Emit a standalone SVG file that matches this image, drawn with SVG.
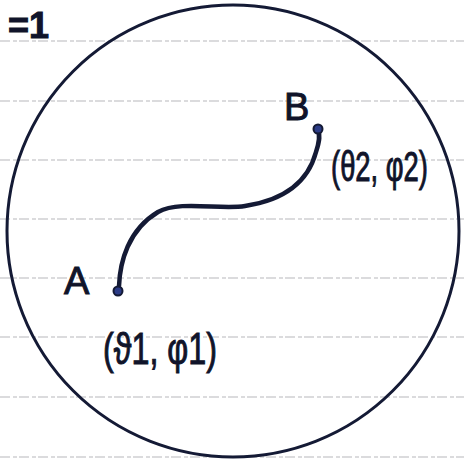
<svg xmlns="http://www.w3.org/2000/svg" width="464" height="463" viewBox="0 0 464 463">
<style>
.rule{stroke:#cfcfd2;stroke-width:1.3;stroke-dasharray:10 3 4 2;fill:none}
.ink{stroke:#141a35;fill:none;stroke-linecap:round;stroke-linejoin:round}
.lbl{font-family:"Liberation Sans","DejaVu Sans",sans-serif;fill:#10142a;stroke:#10142a;stroke-width:1}
.dot{fill:#2b3b86;stroke:#141a35;stroke-width:2}
</style>
<rect width="464" height="463" fill="#ffffff"/>
<g id="ruled-lines">
<line class="rule" x1="0" y1="41" x2="464" y2="41"/>
<line class="rule" x1="0" y1="101" x2="464" y2="101"/>
<line class="rule" x1="0" y1="160" x2="464" y2="160"/>
<line class="rule" x1="0" y1="219" x2="464" y2="219"/>
<line class="rule" x1="0" y1="278" x2="464" y2="278"/>
<line class="rule" x1="0" y1="337" x2="464" y2="337"/>
<line class="rule" x1="0" y1="397" x2="464" y2="397"/>
<line class="rule" x1="0" y1="457" x2="464" y2="457"/>
</g>
<g id="sphere">
<circle class="ink" cx="233" cy="231" r="226" stroke-width="3"/>
</g>
<text class="lbl" x="8" y="38" font-size="36" font-weight="bold">=1</text>
<g id="connectors">
<path class="ink" stroke-width="4.5" d="M119,286 C120,262 128,230 158,212 C180,200 220,210 245,206 C285,200 308,182 316,152 C320,140 320,135 318,130"/>
</g>
<g id="node-A">
<circle class="dot" cx="118" cy="291" r="4.5"/>
<text class="lbl" x="64" y="294" font-size="38">A</text>
<text class="lbl" x="103" y="364" font-size="44" textLength="114" lengthAdjust="spacingAndGlyphs">(ϑ1, φ1)</text>
</g>
<g id="node-B">
<circle class="dot" cx="318" cy="129" r="4.5"/>
<text class="lbl" x="284" y="120" font-size="38">B</text>
<text class="lbl" x="331" y="181" font-size="42" textLength="97" lengthAdjust="spacingAndGlyphs">(θ2, φ2)</text>
</g>
</svg>
